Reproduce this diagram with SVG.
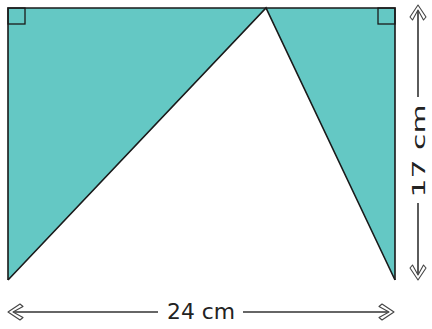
<svg xmlns="http://www.w3.org/2000/svg" width="432" height="329" viewBox="0 0 432 329">
<defs>
<style>
.fill{fill:#64c8c4;stroke:none}
.edge{fill:none;stroke:#1a1a1a;stroke-width:1.6;stroke-linejoin:miter}
.mark{fill:none;stroke:#1a1a1a;stroke-width:1.3}
.dim{stroke:#333;stroke-width:1.6;fill:none}
.head{fill:#fff;stroke:#444;stroke-width:1.1;stroke-linejoin:round}
.lbl{font-family:"DejaVu Sans",sans-serif;fill:#222}
</style>
<polygon id="ah" class="head" points="0,0 12,-8 15,-5.5 5,0 15,5.5 12,8"/>
</defs>
<g id="shape">
<polygon class="fill" points="8,8 266,8 8,280"/>
<polygon class="fill" points="266,8 395,8 395,280"/>
<polyline class="edge" points="8,280 8,8 395,8 395,280"/>
<polyline class="edge" points="8,280 266,8 395,280"/>
<rect class="mark" x="8" y="8" width="17" height="16"/>
<rect class="mark" x="378" y="8" width="17" height="16"/>
</g>
<g id="connectors">
<line class="dim" x1="12" y1="312" x2="158" y2="312"/>
<line class="dim" x1="243" y1="312" x2="390" y2="312"/>
<use href="#ah" transform="translate(8,312)"/>
<use href="#ah" transform="translate(394,312) rotate(180)"/>
<line class="dim" x1="418" y1="10" x2="418" y2="97"/>
<line class="dim" x1="418" y1="203" x2="418" y2="276"/>
<use href="#ah" transform="translate(418,5) rotate(90)"/>
<use href="#ah" transform="translate(418,280) rotate(-90)"/>
</g>
<g id="labels">
<text class="lbl" x="201" y="319" font-size="21" text-anchor="middle" textLength="68" lengthAdjust="spacingAndGlyphs">24 cm</text>
<text class="lbl" transform="translate(425,151) rotate(-90)" font-size="18" text-anchor="middle" textLength="93" lengthAdjust="spacingAndGlyphs">17 cm</text>
</g>
</svg>
